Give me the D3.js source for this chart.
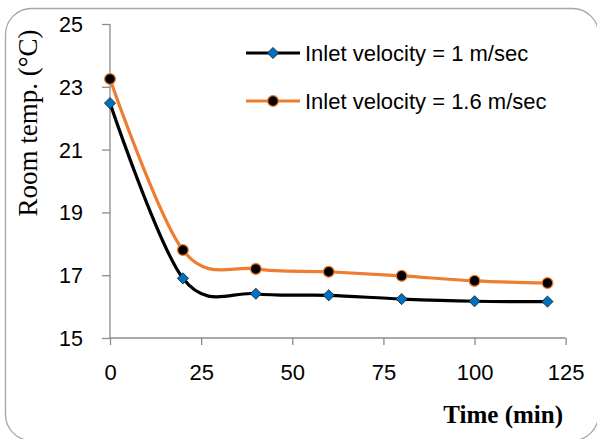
<!DOCTYPE html>
<html>
<head>
<meta charset="utf-8">
<script src="https://cdn.jsdelivr.net/npm/d3@7"></script>
<style>
  html, body { margin: 0; padding: 0; background: #fff; }
  svg { display: block; }
</style>
</head>
<body>
<svg id="chart" width="597" height="439"></svg>
<script>
// ---- data ----
const times = [0, 20, 40, 60, 80, 100, 120];
const temp1 = [22.48, 16.9, 16.41, 16.36, 16.24, 16.17, 16.16];
const temp16 = [23.25, 17.8, 17.2, 17.11, 16.98, 16.82, 16.75];
const seriesNames = ["Inlet velocity = 1 m/sec", "Inlet velocity = 1.6 m/sec"];
const xTicks = [0, 25, 50, 75, 100, 125];
const yTicks = [15, 17, 19, 21, 23, 25];

const svg = d3.select("#chart");
const axisColor = "#8c8c8c";
const orange = "#ED7D31";
const blue = "#0070C0";

// border
svg.append("rect")
  .attr("x", 5.5).attr("y", 8.5)
  .attr("width", 593).attr("height", 432)
  .attr("rx", 26).attr("ry", 26)
  .attr("fill", "#fff")
  .attr("stroke", "#a6a6a6").attr("stroke-width", 1.3);

const x = d3.scaleLinear().domain([0, 125]).range([110, 565.7]);
const y = d3.scaleLinear().domain([15, 25]).range([338, 24]);

// y axis
const yAxis = svg.append("g").attr("transform", "translate(110,0)")
  .call(d3.axisLeft(y).tickValues(yTicks).tickSize(8).tickPadding(6).tickFormat(d3.format("d")));
yAxis.select(".domain").attr("stroke", axisColor).attr("stroke-width", 1.3)
  .attr("d", `M0,${y(25)}V${y(15)}`);
yAxis.selectAll(".tick line").attr("stroke", axisColor).attr("stroke-width", 1.3);
yAxis.selectAll(".tick text")
  .attr("font-family", "'Liberation Sans', Arial, sans-serif")
  .attr("font-size", 21.5).attr("fill", "#000")
  .attr("x", -27).attr("dy", "0.35em");

// x axis
const xAxis = svg.append("g").attr("transform", `translate(0,${y(15)})`)
  .call(d3.axisBottom(x).tickValues(xTicks).tickSize(7).tickPadding(12).tickFormat(d3.format("d")));
xAxis.select(".domain").attr("stroke", axisColor).attr("stroke-width", 1.3)
  .attr("d", `M${x(0)},0H${x(125)}`);
xAxis.selectAll(".tick line").attr("stroke", axisColor).attr("stroke-width", 1.3);
xAxis.selectAll(".tick text")
  .attr("font-family", "'Liberation Sans', Arial, sans-serif")
  .attr("font-size", 22).attr("fill", "#000")
  .attr("y", 34).attr("dy", "0.35em");

// axis titles
svg.append("text")
  .attr("transform", "translate(37,123) rotate(-90)")
  .attr("text-anchor", "middle")
  .attr("font-family", "'Liberation Serif', 'Times New Roman', serif")
  .attr("font-size", 27)
  .attr("fill", "#000")
  .text("Room temp. (°C)");

svg.append("text")
  .attr("x", 563).attr("y", 423)
  .attr("text-anchor", "end")
  .attr("font-family", "'Liberation Serif', 'Times New Roman', serif")
  .attr("font-size", 25)
  .attr("font-weight", "bold")
  .attr("fill", "#000")
  .text("Time (min)");

// lines
const line = d3.line().curve(d3.curveCatmullRom.alpha(0))
  .x(d => x(d[0])).y(d => y(d[1]));

const s1 = times.map((t, i) => [t, temp1[i]]);
const s2 = times.map((t, i) => [t, temp16[i]]);

svg.append("path").attr("d", line(s2))
  .attr("fill", "none").attr("stroke", orange).attr("stroke-width", 3.2);
svg.append("path").attr("d", line(s1))
  .attr("fill", "none").attr("stroke", "#000").attr("stroke-width", 3.2);

const diamond = d3.symbol().type(d3.symbolDiamond2).size(80);

function drawDiamond(g, cx, cy) {
  g.append("path").attr("d", diamond())
    .attr("transform", `translate(${cx},${cy})`)
    .attr("fill", blue).attr("stroke", "#1a1a1a").attr("stroke-width", 0.8);
}
function drawCircle(g, cx, cy) {
  g.append("circle").attr("cx", cx).attr("cy", cy).attr("r", 5.4)
    .attr("fill", "#000").attr("stroke", orange).attr("stroke-width", 1.3);
}

const m2 = svg.append("g");
s2.forEach(d => drawCircle(m2, x(d[0]), y(d[1])));
const m1 = svg.append("g");
s1.forEach(d => drawDiamond(m1, x(d[0]), y(d[1])));

// legend
const legend = svg.append("g");
const legY = [53, 101];
[0, 1].forEach(i => {
  legend.append("line")
    .attr("x1", 246).attr("x2", 300).attr("y1", legY[i]).attr("y2", legY[i])
    .attr("stroke", i === 0 ? "#000" : orange).attr("stroke-width", 3.2);
  if (i === 0) drawDiamond(legend, 273, legY[i]);
  else drawCircle(legend, 273, legY[i]);
  legend.append("text")
    .attr("x", 305).attr("y", legY[i]).attr("dy", "0.35em")
    .attr("font-family", "'Liberation Sans', Arial, sans-serif")
    .attr("font-size", 22)
    .attr("fill", "#000")
    .text(seriesNames[i]);
});
</script>
</body>
</html>
